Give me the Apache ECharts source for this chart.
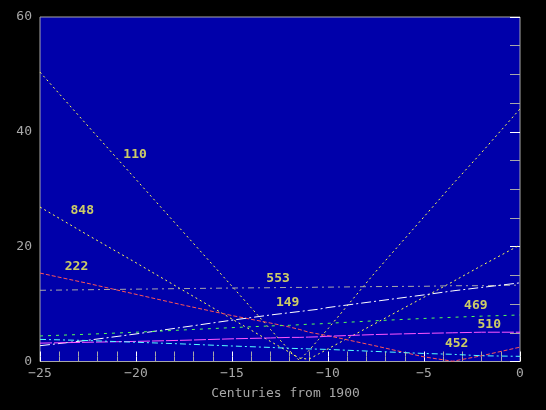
<!DOCTYPE html>
<html>
<head>
<meta charset="utf-8">
<script src="https://cdn.jsdelivr.net/npm/echarts@6/dist/echarts.min.js"></script>
<style>
  html, body { margin: 0; padding: 0; background: #000; }
  #chart { width: 546px; height: 410px; }
</style>
</head>
<body>
<div id="chart"></div>
<script>
// centuries from 1900, shared by every curve
const centuries = [-25, -22.5, -20, -17.5, -15, -13, -12, -11.5, -11, -10.5, -10, -7.5, -5, -3.5, -2, 0]

const star110 = [50.4, 41.0, 31.7, 22.4, 13.1, 5.6, 1.9, 0.2, 1.9, 3.8, 5.7, 15.7, 25.2, 30.9, 36.4, 44.0]
const star848 = [26.9, 22.0, 17.2, 12.3, 7.4, 3.5, 1.6, 0.6, 0.4, 1.3, 2.2, 6.7, 11.2, 13.9, 16.7, 20.3]
const star222 = [15.4, 13.6, 11.7, 9.8, 8.0, 6.7, 6.0, 5.6, 5.1, 4.8, 4.5, 2.7, 0.8, 0.05, 1.0, 2.5]
const star553 = [12.4, 12.5, 12.6, 12.7, 12.8, 12.85, 12.9, 12.9, 12.9, 12.95, 12.95, 13.05, 13.1, 13.2, 13.2, 13.3]
const star149 = [2.75, 3.7, 4.8, 6.0, 7.2, 8.1, 8.5, 8.7, 8.9, 9.1, 9.4, 10.5, 11.6, 12.3, 12.9, 13.7]
const star469 = [4.45, 4.75, 5.1, 5.5, 5.9, 6.2, 6.3, 6.4, 6.5, 6.55, 6.65, 7.1, 7.5, 7.7, 7.9, 8.1]
const star510 = [3.2, 3.35, 3.5, 3.7, 3.95, 4.1, 4.2, 4.2, 4.25, 4.3, 4.4, 4.7, 4.9, 5.0, 5.1, 5.1]
const star452 = [3.85, 3.65, 3.35, 3.05, 2.7, 2.45, 2.3, 2.25, 2.2, 2.15, 2.1, 1.75, 1.4, 1.25, 1.0, 0.9]

// curve names and where their tags sit (data units)
const tagNames = ['110', '848', '222', '553', '149', '469', '510', '452']
const tagX = [-20.05, -22.8, -23.1, -12.6, -12.1, -2.3, -1.6, -3.3]
const tagY = [36.1, 26.2, 16.5, 14.5, 10.2, 9.7, 6.5, 3.05]

const xTicks = [-25, -20, -15, -10, -5, 0]
const yTicks = [0, 20, 40, 60]

const font = '"DejaVu Sans Mono", "Liberation Mono", monospace'
const gray = '#a8a8a8'

function pairs(values) {
  return centuries.map((c, i) => [c, values[i]])
}

function curve(name, values, color, dash) {
  return {
    name: name,
    type: 'line',
    data: pairs(values),
    showSymbol: false,
    symbol: 'none',
    smooth: false,
    silent: true,
    lineStyle: { color: color, width: 1, type: dash }
  }
}

// tick-only axis, pulled 5px into the plot so its outward ticks end on the frame
function tickAxis(position, range, interval, split) {
  return {
    type: 'value', min: range[0], max: range[1], interval: interval,
    position: position, offset: -5,
    axisLine: { show: false },
    axisTick: { show: true, length: 5, lineStyle: { color: '#ffffff', width: 1 } },
    minorTick: { show: true, splitNumber: split, length: 5, lineStyle: { color: gray, width: 1 } },
    axisLabel: { show: false },
    splitLine: { show: false }
  }
}

const chart = echarts.init(document.getElementById('chart'), null, { renderer: 'canvas' })

chart.setOption({
  backgroundColor: '#000000',
  animation: false,
  grid: {
    left: 40, right: 26, top: 17, bottom: 48.5,
    show: true, backgroundColor: '#0000aa', borderWidth: 1, borderColor: gray
  },
  xAxis: [
    {
      type: 'value', min: -25, max: 0, interval: 5, position: 'bottom',
      axisLine: { show: false },
      axisTick: { show: false },
      splitLine: { show: false },
      axisLabel: {
        color: gray, fontFamily: font, fontSize: 13, margin: 6,
        formatter: v => xTicks.includes(v) ? String(v).replace('-', '\u2212') : ''
      },
      name: 'Centuries from 1900',
      nameLocation: 'middle',
      nameGap: 26,
      nameTextStyle: { color: gray, fontFamily: font, fontSize: 13, padding: [0, 0, 0, 11] }
    },
    tickAxis('bottom', [-25, 0], 5, 5),
    tickAxis('top', [-25, 0], 5, 5)
  ],
  yAxis: [
    {
      type: 'value', min: 0, max: 60, interval: 20, position: 'left',
      axisLine: { show: false },
      axisTick: { show: false },
      splitLine: { show: false },
      axisLabel: {
        color: gray, fontFamily: font, fontSize: 13, margin: 8,
        formatter: v => yTicks.includes(v) ? String(v) : ''
      }
    },
    tickAxis('left', [0, 60], 20, 4),
    tickAxis('right', [0, 60], 20, 4)
  ],
  series: [
    curve('110', star110, '#ffff55', [2, 3]),
    curve('848', star848, '#ffff55', [2, 3]),
    curve('222', star222, '#ff5555', [4, 2]),
    curve('553', star553, '#a8a8a8', [6, 4, 2, 4]),
    curve('149', star149, '#ffffff', [10, 3, 2, 3]),
    curve('469', star469, '#55ff55', [3, 5]),
    curve('510', star510, '#ff55ff', [12, 2]),
    curve('452', star452, '#55ffff', [6, 3, 2, 3]),
    {
      name: 'tags',
      type: 'scatter',
      symbolSize: 0,
      silent: true,
      data: tagNames.map((n, i) => ({ name: n, value: [tagX[i], tagY[i]] })),
      label: {
        show: true,
        position: 'inside',
        formatter: p => p.name,
        color: '#ffff55',
        fontFamily: font,
        fontWeight: 'bold',
        fontSize: 13
      }
    }
  ]
})
</script>
</body>
</html>
